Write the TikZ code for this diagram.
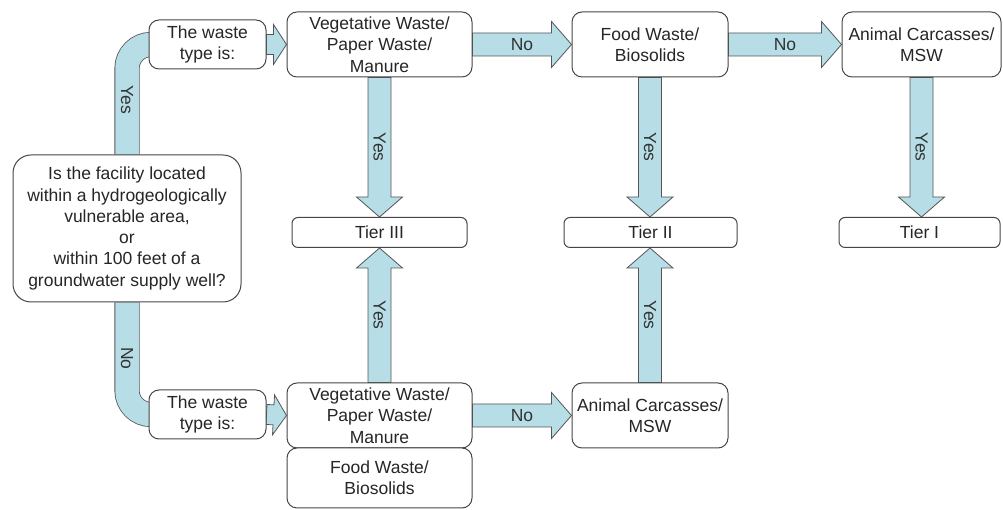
\documentclass[tikz,border=0pt]{standalone}
\usepackage{fontspec}
\setmainfont{Liberation Sans}
\usepackage{tikz}
\usetikzlibrary{calc, backgrounds}

\definecolor{arrowfill}{RGB}{183,221,230}
\definecolor{arrowline}{RGB}{85,85,85}
\definecolor{boxline}{RGB}{70,70,70}

% block arrow sizes (half shaft, half head, head length)
\newcommand{\arshaft}{11.5pt}
\newcommand{\arhead}{23pt}
\newcommand{\arlen}{20pt}

% [label options]{from}{to}{label}
\newcommand{\blockarrow}[4][]{%
  \coordinate (ba-s) at (#2);
  \coordinate (ba-e) at (#3);
  \coordinate (ba-h) at ($(ba-e)!\arlen!(ba-s)$);
  \draw[arrowbody] ($(ba-s)!\arshaft!90:(ba-e)$) -- ($(ba-h)!\arshaft!-90:(ba-s)$)
    -- ($(ba-h)!\arhead!-90:(ba-s)$) -- (ba-e) -- ($(ba-h)!\arhead!90:(ba-s)$)
    -- ($(ba-h)!\arshaft!90:(ba-s)$) -- ($(ba-s)!\arshaft!-90:(ba-e)$) -- cycle;
  \node[arlabel, #1] at ($(ba-s)!.5!(ba-e)$) {#4};
}

\begin{document}
\begin{tikzpicture}[x=1pt, y=1pt,
    box/.style={draw=boxline, line width=1pt, fill=white, rounded corners=10pt,
      align=center, inner sep=0pt, text=black!85,
      font=\fontsize{17.5}{21.3}\selectfont},
    tierbox/.style={box, rounded corners=6pt, minimum height=30pt},
    arrowbody/.style={draw=arrowline, line width=0.8pt, fill=arrowfill, line join=miter},
    arlabel/.style={inner sep=0pt, text=black!80, font=\fontsize{17.5}{21.3}\selectfont},
    elbow/.style={draw=arrowline, line width=0.8pt, double=arrowfill,
      double distance=23.5pt, rounded corners=24pt}]
  \useasboundingbox (0,0) rectangle (1003,510);

  % Question
  \node[box, rounded corners=18pt, minimum width=228pt, minimum height=147pt] (q) at (127,281.5)
    {Is the facility located\\within a hydrogeologically\\vulnerable area,\\or\\within 100 feet of a\\groundwater supply well?};

  % Upper branch
  \node[box, minimum width=117pt, minimum height=49pt] (wasteA) at (207.5,465.5) {The waste\\type is:};
  \node[box, minimum width=185pt, minimum height=65pt] (vegA) at (379.5,465.5) {Vegetative Waste/\\Paper Waste/\\Manure};
  \node[box, minimum width=156pt, minimum height=65pt] (foodA) at (650,465.5) {Food Waste/\\Biosolids};
  \node[box, minimum width=159pt, minimum height=65pt] (animA) at (921.5,465.5) {Animal Carcasses/\\MSW};

  % Tiers
  \node[tierbox, minimum width=175pt] (tier3) at (379.5,277.5) {Tier III};
  \node[tierbox, minimum width=173pt] (tier2) at (650.5,277.5) {Tier II};
  \node[tierbox, minimum width=161pt] (tier1) at (919.5,277.5) {Tier I};

  % Lower branch
  \node[box, minimum width=117pt, minimum height=49pt] (wasteB) at (207.5,95.5) {The waste\\type is:};
  \node[box, minimum width=185pt, minimum height=65pt] (vegB) at (379.5,94.5) {Vegetative Waste/\\Paper Waste/\\Manure};
  \node[box, minimum width=185pt, minimum height=60pt] (foodB) at (379.5,32) {Food Waste/\\Biosolids};
  \node[box, minimum width=156pt, minimum height=65pt] (animB) at (650,94.5) {Animal Carcasses/\\MSW};

  \begin{scope}[on background layer]
    % Yes / No out of the question
    \draw[elbow] (q.north) |- node[pos=0.25, arlabel, rotate=-90] {Yes} (wasteA.west);
    \draw[elbow] (q.south) |- node[pos=0.25, arlabel, rotate=-90] {No} (wasteB.west);

    % Small arrows into the waste lists
    \begin{scope}
      \renewcommand{\arshaft}{10pt}
      \renewcommand{\arhead}{20pt}
      \renewcommand{\arlen}{13pt}
      \blockarrow{wasteA.east}{vegA.west}{}
      \blockarrow{wasteB.east}{vegB.west}{}
    \end{scope}

    % Upper row
    \blockarrow{vegA.east}{foodA.west}{No}
    \blockarrow{foodA.east}{animA.west}{No}
    \blockarrow[rotate=-90]{vegA.south}{tier3.north}{Yes}
    \blockarrow[rotate=-90]{foodA.south}{foodA.south |- tier2.north}{Yes}
    \blockarrow[rotate=-90]{animA.south}{animA.south |- tier1.north}{Yes}

    % Lower row
    \blockarrow{vegB.east}{animB.west}{No}
    \blockarrow[rotate=-90]{vegB.north}{tier3.south}{Yes}
    \blockarrow[rotate=-90]{animB.north}{animB.north |- tier2.south}{Yes}
  \end{scope}
\end{tikzpicture}
\end{document}
